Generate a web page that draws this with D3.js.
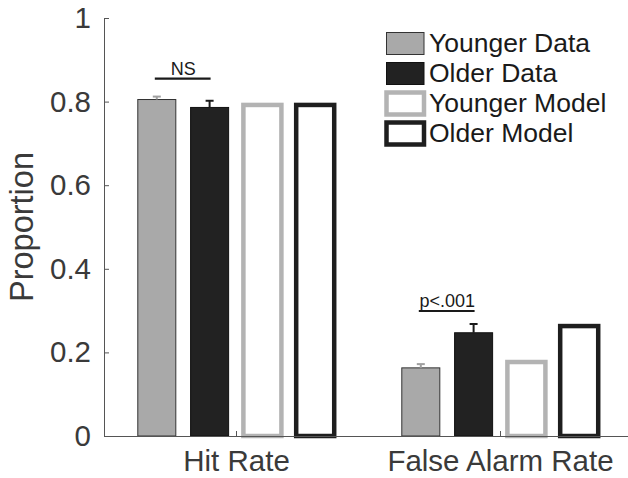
<!DOCTYPE html>
<html><head><meta charset="utf-8">
<script src="https://cdn.jsdelivr.net/npm/d3@7"></script>
<style>
html,body{margin:0;padding:0;background:#fff;}
svg{display:block;font-family:"Liberation Sans",Arial,Helvetica,sans-serif;}
</style></head>
<body>
<svg id="chart" width="628" height="478"></svg>
<script>
// ---- data ----
const categories = ["Hit Rate", "False Alarm Rate"];
const seriesNames = ["Younger Data", "Older Data", "Younger Model", "Older Model"];
const youngerData = [0.805, 0.163];
const olderData   = [0.786, 0.247];
const youngerModel = [0.792, 0.177];
const olderModel   = [0.792, 0.263];
const youngerErr = [0.007, 0.009];
const olderErr   = [0.016, 0.021];
const yTicks = [0, 0.2, 0.4, 0.6, 0.8, 1];
const annotations = [
  {group: 0, text: "NS", y: 0.855},
  {group: 1, text: "p<.001", y: 0.299}
];

// ---- styles ----
const styles = [
  {fill: "#a9a9a9", stroke: "#333", sw: 1, model: false, err: "#a0a0a0"},
  {fill: "#222222", stroke: "#111", sw: 1, model: false, err: "#1a1a1a"},
  {fill: "#ffffff", stroke: "#b3b3b3", sw: 4.5, model: true},
  {fill: "#ffffff", stroke: "#1e1e1e", sw: 4.5, model: true}
];
const values = [youngerData, olderData, youngerModel, olderModel];
const errs = [youngerErr, olderErr, null, null];

const svg = d3.select("#chart");
const x = d3.scaleLinear().domain([0.5, 2.5]).range([104, 632]);
const y = d3.scaleLinear().domain([0, 1]).range([436, 18]);
const unit = x(1) - x(0);
const barW = 0.144 * unit;
const offset = i => (i - 1.5) * 0.2;

// bars
values.forEach((vals, s) => {
  const st = styles[s];
  svg.append("g").selectAll("rect").data(vals).join("rect")
    .attr("x", (d, g) => x(g + 1 + offset(s)) - barW / 2)
    .attr("y", d => y(d))
    .attr("width", barW)
    .attr("height", d => y(0) - y(d))
    .attr("fill", st.fill)
    .attr("stroke", st.stroke)
    .attr("stroke-width", st.sw);
  if (errs[s]) {
    const eg = svg.append("g").attr("stroke", st.err).attr("stroke-width", 2);
    vals.forEach((v, g) => {
      const cx = x(g + 1 + offset(s));
      const top = y(v + errs[s][g]);
      eg.append("line").attr("x1", cx).attr("x2", cx).attr("y1", y(v)).attr("y2", top);
      eg.append("line").attr("x1", cx - 4).attr("x2", cx + 4).attr("y1", top).attr("y2", top);
    });
  }
});

// axes
const yAxis = d3.axisLeft(y).tickValues(yTicks)
  .tickFormat(d => (d === 0 || d === 1) ? String(d) : d.toFixed(1))
  .tickSizeInner(-5).tickSizeOuter(0).tickPadding(13);
const gy = svg.append("g").attr("transform", `translate(${x(0.5)},0)`).call(yAxis);
gy.select(".domain").attr("stroke", "#555");
gy.selectAll(".tick line").attr("stroke", "#555");
gy.selectAll("text").attr("font-size", 29.5).attr("fill", "#3a3a3a")
  .attr("font-family", "Liberation Sans, Arial, sans-serif");

const xAxis = d3.axisBottom(x).tickValues([1, 2])
  .tickFormat((d) => categories[d - 1])
  .tickSizeInner(-5).tickSizeOuter(0).tickPadding(14);
const gx = svg.append("g").attr("transform", `translate(0,${y(0)})`).call(xAxis);
gx.select(".domain").attr("stroke", "#555");
gx.selectAll(".tick line").attr("stroke", "#555");
gx.selectAll("text").attr("font-size", 29.5).attr("fill", "#3a3a3a")
  .attr("font-family", "Liberation Sans, Arial, sans-serif");

// y label
svg.append("text")
  .attr("transform", `translate(33,${y(0.5)}) rotate(-90)`)
  .attr("text-anchor", "middle")
  .attr("font-size", 32.5).attr("fill", "#3a3a3a")
  .text("Proportion");

// significance annotations
annotations.forEach(a => {
  const x1 = x(a.group + 1 + offset(0));
  const x2 = x(a.group + 1 + offset(1));
  svg.append("line").attr("x1", x1 - 2).attr("x2", x2 + 1)
    .attr("y1", y(a.y)).attr("y2", y(a.y))
    .attr("stroke", "#1a1a1a").attr("stroke-width", 2.2);
  svg.append("text").attr("x", (x1 + x2) / 2).attr("y", y(a.y) - 4)
    .attr("text-anchor", "middle").attr("font-size", 18).attr("fill", "#1a1a1a")
    .text(a.text);
});

// legend
const lg = svg.append("g");
seriesNames.forEach((name, i) => {
  const st = styles[i];
  const cy = 43.5 + i * 30;
  lg.append("rect").attr("x", 386.5).attr("y", cy - 11).attr("width", 37.5).attr("height", 22)
    .attr("fill", st.fill).attr("stroke", st.stroke).attr("stroke-width", st.sw);
  lg.append("text").attr("x", 429).attr("y", cy + 8.5)
    .attr("font-size", 26.5).attr("fill", "#1a1a1a").text(name);
});
</script>
</body></html>
